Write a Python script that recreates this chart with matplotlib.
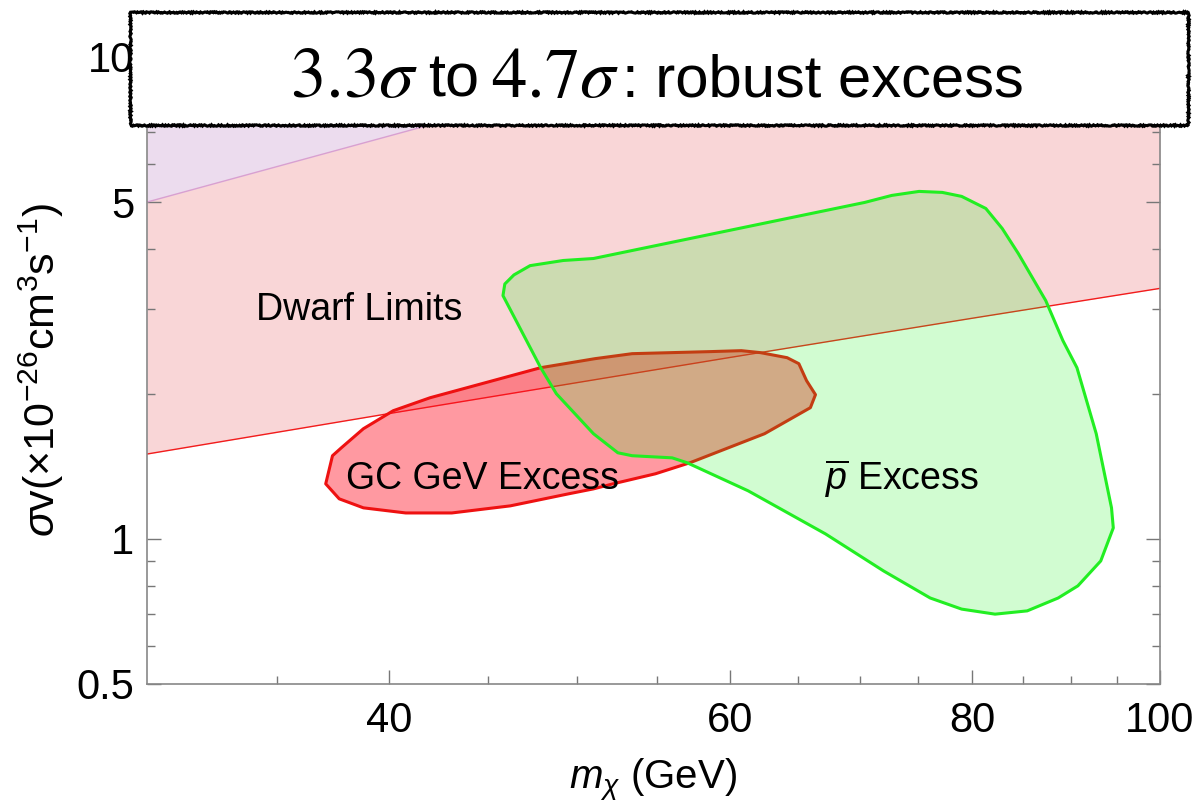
import matplotlib.pyplot as plt
from matplotlib.patches import Polygon, Rectangle
from matplotlib.ticker import FixedLocator, NullFormatter, FixedFormatter
import numpy as np

plt.rcParams['font.family'] = ['Liberation Sans', 'DejaVu Sans']
plt.rcParams['mathtext.fontset'] = 'custom'
plt.rcParams['mathtext.rm'] = 'Liberation Sans'
plt.rcParams['mathtext.it'] = 'Liberation Sans:italic'

# dwarf spheroidal upper limit (GeV, 1e-26 cm^3/s)
dwarf_m = [30, 40, 60, 80, 100]
dwarf_sv = [1.50, 1.82, 2.38, 2.87, 3.31]

# second, weaker limit (upper-left corner)
upper_m = [30, 45, 60, 100]
upper_sv = [5.0, 7.8, 10.8, 19.0]

# GC GeV excess contour
gc_m = [51.1, 53.4, 58.6, 60.8, 62.2, 64.2, 65.1, 65.7, 66.4, 66.0, 62.5, 57.2,
        54.9, 52.2, 51.0, 49.5, 46.2, 43.1, 40.8, 38.8, 37.7, 37.1, 37.4, 37.8,
        38.8, 40.2, 42.0, 47.9]
gc_sv = [2.366, 2.423, 2.447, 2.458, 2.435, 2.377, 2.310, 2.130, 1.992, 1.872,
         1.653, 1.439, 1.365, 1.301, 1.270, 1.240, 1.171, 1.132, 1.132, 1.160,
         1.211, 1.301, 1.488, 1.546, 1.693, 1.845, 1.963, 2.266]

# antiproton excess contour
pbar_m = [45.8, 45.9, 46.4, 47.3, 49.2, 51.0, 70.4, 72.7, 75.1, 77.2, 79.0, 81.3,
          82.9, 84.5, 87.3, 89.1, 90.6, 92.7, 94.4, 94.6, 93.2, 90.7, 88.6, 85.4,
          82.2, 79.0, 76.1, 72.0, 67.2, 61.3, 57.0, 56.0, 53.4, 52.5, 51.0, 48.8,
          47.9]
pbar_sv = [3.198, 3.380, 3.530, 3.690, 3.782, 3.818, 4.991, 5.161, 5.261, 5.236,
           5.137, 4.849, 4.407, 3.910, 3.123, 2.579, 2.266, 1.653, 1.160, 1.054,
           0.900, 0.799, 0.754, 0.709, 0.698, 0.715, 0.754, 0.858, 1.024, 1.258,
           1.439, 1.473, 1.488, 1.509, 1.653, 2.001, 2.266]

x_major = [40, 60, 80, 100]
x_minor = [35, 45, 50, 55, 65, 70, 75, 85, 90, 95]
y_major = [0.5, 1, 5, 10]
y_minor = [0.6, 0.7, 0.8, 0.9, 2, 3, 4, 6, 7, 8, 9]

fig = plt.figure(figsize=(11.96, 8.06), dpi=100)
ax = fig.add_axes([0.1229, 0.1514, 0.847, 0.7779])
ax.set_xscale('log')
ax.set_yscale('log')
ax.set_xlim(30, 100)
ax.set_ylim(0.5, 10)

top = 40
ax.fill_between(dwarf_m, dwarf_sv, top, color='#f9d6d7', lw=0, zorder=1)
ax.plot(dwarf_m, dwarf_sv, color='#f21c1c', lw=1, zorder=2)
ax.fill_between(upper_m, upper_sv, top, color='#ecdcee', lw=0, zorder=1.5)
ax.plot(upper_m, upper_sv, color='#d9a0d0', lw=1, zorder=2)

ax.add_patch(Polygon(np.column_stack([gc_m, gc_sv]), closed=True,
                     facecolor=(1, 0.05, 0.12, 0.42), edgecolor='#ee1111',
                     lw=2.2, joinstyle='round', zorder=3))
ax.add_patch(Polygon(np.column_stack([pbar_m, pbar_sv]), closed=True,
                     facecolor=(0.1, 0.95, 0.1, 0.2), edgecolor='none', zorder=4))
ax.add_patch(Polygon(np.column_stack([pbar_m, pbar_sv]), closed=True,
                     facecolor='none', edgecolor='#22ee22', lw=2.2,
                     joinstyle='round', zorder=4.5))

ax.text(38.6, 2.98, 'Dwarf Limits', fontsize=27, ha='center', va='center', zorder=6)
ax.text(44.7, 1.33, 'GC GeV Excess', fontsize=27, ha='center', va='center', zorder=6)
ax.text(73.6, 1.33, r'$\overline{p}$ Excess', fontsize=27, ha='center', va='center',
        zorder=6)

ax.xaxis.set_major_locator(FixedLocator(x_major))
ax.xaxis.set_major_formatter(FixedFormatter([str(v) for v in x_major]))
ax.xaxis.set_minor_locator(FixedLocator(x_minor))
ax.xaxis.set_minor_formatter(NullFormatter())
ax.yaxis.set_major_locator(FixedLocator(y_major))
ax.yaxis.set_major_formatter(FixedFormatter(['0.5', '1', '5', '10']))
ax.yaxis.set_minor_locator(FixedLocator(y_minor))
ax.yaxis.set_minor_formatter(NullFormatter())
ax.tick_params(which='both', direction='in', colors='#777777', labelcolor='black',
               labelsize=30, top=True, right=True)
ax.tick_params(which='major', length=10, width=1)
ax.tick_params(which='minor', length=6, width=1)
ax.tick_params(axis='x', pad=12)
ax.tick_params(axis='y', pad=9)
for s in ax.spines.values():
    s.set_color('#888888')
    s.set_linewidth(1.2)

ax.set_xlabel(r'$m_\chi$ (GeV)', fontsize=29, labelpad=12)
ax.set_ylabel(r'$\sigma$v($\times$10$^{-26}$cm$^3$s$^{-1}$)', fontsize=31, labelpad=8)

# caption box across the top
box = Rectangle((0.109, 0.845), 0.884, 0.140, transform=fig.transFigure,
                facecolor='white', edgecolor='black', lw=2.2, zorder=10)
box.set_sketch_params(0.7, 3, 3)
fig.add_artist(box)

base_y = 0.880
pieces = [(r'$3.3\sigma$', 51, 'stix', 0),
          ('to', 44, None, 10),
          (r'$4.7\sigma$', 51, 'stix', 12),
          (': robust excess', 43, None, 2)]
x_px = 290
fig.canvas.draw()
r = fig.canvas.get_renderer()
for s, size, mfont, gap in pieces:
    x_px += gap
    kw = {'math_fontfamily': mfont} if mfont else {}
    t = fig.text(x_px / fig.bbox.width, base_y, s, fontsize=size, va='baseline',
                 zorder=11, **kw)
    x_px = t.get_window_extent(r).x1

fig.savefig('out.png', dpi=100)
